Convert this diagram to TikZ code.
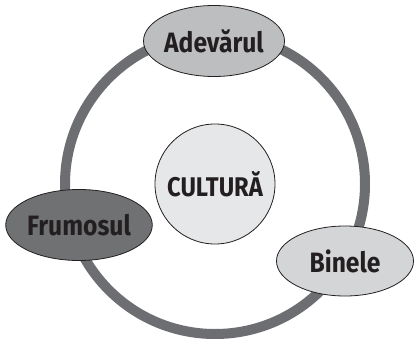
\documentclass[tikz,border=0pt]{standalone}
\usepackage{fontspec}
\setmainfont{Fira Sans}[FakeStretch=0.88]
\usetikzlibrary{shapes.geometric}
\definecolor{ringgray}{HTML}{6D6E71}
\definecolor{darkfill}{HTML}{707173}
\definecolor{midfill}{HTML}{BDBEC0}
\definecolor{lightfill}{HTML}{D4D5D7}
\definecolor{centerfill}{HTML}{E6E7E8}
\definecolor{textdark}{HTML}{231F20}

\begin{document}
\begin{tikzpicture}[x=1pt, y=-1pt]
\tikzset{value/.style = {shape=ellipse, draw=textdark, line width=0.8pt, minimum width=141pt, minimum height=71pt, inner sep=0pt, text=textdark, font=\fontsize{28}{30}\selectfont\bfseries}}
    \tikzset{core/.style = {shape=circle, draw=textdark, line width=0.8pt, fill=centerfill, minimum size=120pt, inner sep=0pt, text=textdark, font=\fontsize{27}{30}\selectfont\bfseries}}
\useasboundingbox (0,0) rectangle (414,339);
% Define the center and the big ring behind the values
\coordinate (O) at (215,184);
\draw[ringgray, line width=10pt] (O) circle (150);

% The three values placed on the ring
\node[core] (C) at (O){CULTURĂ};
\node[value, fill=midfill] (A) at (214,41){Adevărul};
\node[value, fill=darkfill] (F) at (79,225){Frumosul};
\node[value, fill=lightfill, minimum width=137pt, minimum height=70pt] (B) at (345,261){Binele};
\end{tikzpicture}
\end{document}
